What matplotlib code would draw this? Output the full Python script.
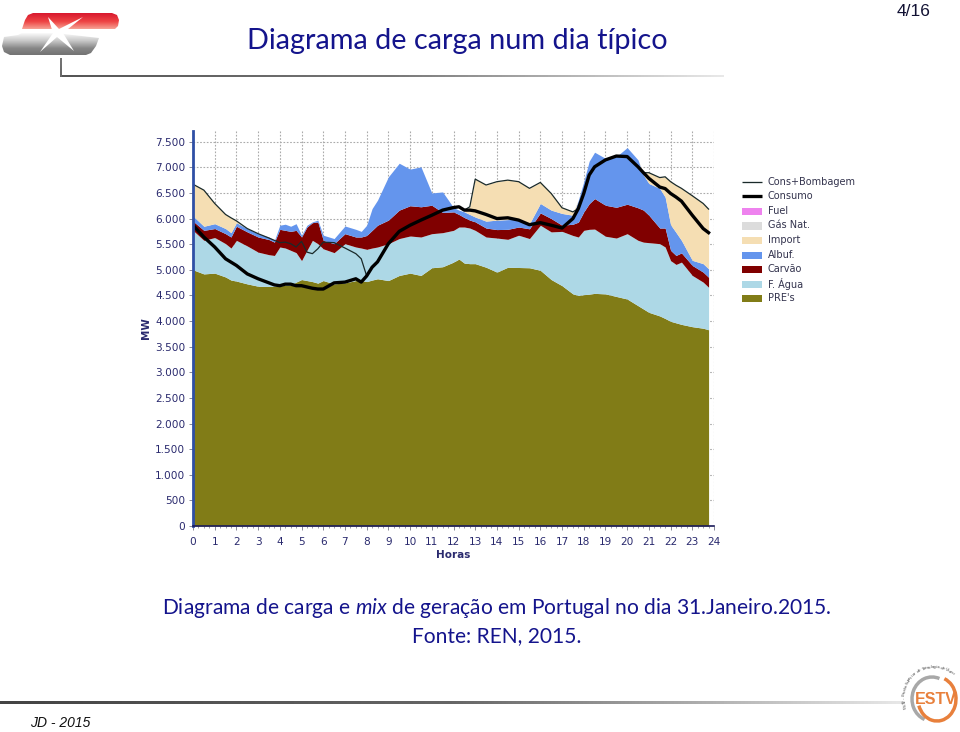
import numpy as np
import matplotlib
matplotlib.use("Agg")
import matplotlib.pyplot as plt
from matplotlib.patches import Polygon, Arc, Rectangle
from matplotlib.colors import LinearSegmentedColormap
from matplotlib.ticker import FuncFormatter, MultipleLocator

hours = [0,.5,1,1.5,1.75,2,2.5,3,3.5,3.75,4,4.25,4.5,4.75,5,5.25,5.5,5.75,6,6.5,7,7.5,7.75,8,8.25,8.5,9,9.5,10,10.5,11,11.5,
         12,12.25,12.5,12.75,13,13.5,14,14.5,15,15.5,16,16.5,17,17.5,17.75,18,18.25,18.5,19,19.5,20,20.5,20.75,21,21.5,21.75,22,22.25,22.5,23,23.5,23.75]
pre_top = [5000,4920,4935,4860,4800,4780,4725,4680,4675,4680,4690,4695,4700,4760,4810,4790,4770,4740,4790,4725,4745,4790,4790,4770,4800,4825,4790,4890,4935,4890,5040,5060,
           5150,5210,5130,5120,5120,5050,4955,5050,5045,5040,4990,4810,4690,4530,4500,4515,4525,4540,4530,4480,4430,4300,4235,4170,4100,4050,3995,3965,3935,3890,3860,3830]
agua_top = [5770,5575,5630,5510,5425,5575,5465,5345,5295,5280,5445,5425,5380,5335,5180,5380,5575,5510,5410,5335,5510,5445,5425,5400,5425,5445,5510,5610,5660,5640,5705,5725,
            5770,5835,5835,5815,5770,5640,5620,5595,5675,5610,5870,5740,5750,5670,5640,5770,5790,5795,5655,5620,5705,5575,5540,5530,5510,5445,5180,5105,5150,4890,4760,4660]
carvao_top = [5950,5770,5805,5705,5640,5850,5740,5640,5590,5540,5790,5770,5750,5770,5640,5835,5920,5935,5575,5510,5705,5640,5640,5670,5770,5870,5970,6165,6250,6230,6260,6120,
              6130,6080,6020,5970,5935,5815,5785,5790,5835,5800,6110,6000,5870,5890,5930,6130,6290,6390,6260,6220,6280,6210,6165,6065,5815,5815,5380,5280,5330,5085,4955,4855]
albuf_top = [6050,5850,5900,5805,5725,5920,5805,5705,5640,5575,5870,5890,5850,5900,5675,5870,5935,5970,5675,5610,5855,5790,5750,5870,6195,6360,6815,7080,6965,7010,6500,6520,
             6215,6165,6130,6080,6030,5950,5970,5980,5985,5900,6295,6165,6100,6065,6360,6720,7120,7295,7175,7210,7385,7145,6850,6685,6590,6420,5880,5730,5575,5185,5120,5020]
import_top = [6670,6555,6295,6080,6015,5955,5805,5705,5640,5575,5870,5890,5850,5900,5675,5870,5935,5970,5675,5610,5855,5790,5750,5870,6195,6360,6815,7080,6965,7010,6500,6520,
              6215,6165,6130,6230,6770,6655,6720,6750,6720,6590,6705,6490,6210,6130,6360,6720,7120,7295,7175,7210,7385,7145,6895,6895,6800,6815,6720,6650,6590,6445,6295,6185]
consumo = [5870,5640,5445,5215,5150,5085,4920,4825,4745,4705,4690,4720,4720,4690,4690,4665,4640,4625,4625,4745,4760,4825,4760,4880,5050,5155,5510,5750,5870,5970,6065,6165,
           6215,6230,6165,6165,6150,6080,6000,6015,5970,5880,5920,5870,5815,6000,6195,6490,6850,7010,7145,7220,7210,7010,6895,6785,6615,6585,6490,6420,6340,6065,5805,5725]
cons_bomb = [6670,6555,6295,6080,6015,5955,5805,5705,5620,5575,5530,5540,5510,5445,5555,5345,5315,5410,5540,5530,5425,5315,5215,4880,5050,5155,5510,5750,5870,5970,6065,6165,
             6215,6230,6165,6230,6770,6655,6720,6750,6720,6590,6705,6490,6210,6130,6195,6490,6850,7010,7145,7220,7210,7010,6895,6895,6800,6815,6720,6650,6590,6445,6295,6185]
legend_labels = ["Cons+Bombagem","Consumo","Fuel","Gás Nat.","Import","Albuf.","Carvão","F. Água","PRE's"]
title = "Diagrama de carga num dia típico"

C_PRE, C_AGUA, C_CARV, C_ALB, C_IMP, C_GAS, C_FUEL = "#817c17","#add8e6","#800000","#6495ed","#f5deb3","#dcdcdc","#ee82ee"
NAVY = "#2a2a6e"
W, H = 960, 732

plt.rcParams['mathtext.fontset'] = 'custom'
plt.rcParams['mathtext.it'] = 'Lato:italic'
plt.rcParams['mathtext.rm'] = 'Lato'
fig = plt.figure(figsize=(9.6, 7.32), dpi=100, facecolor="white")

ov = fig.add_axes([0,0,1,1], zorder=0)
ov.axis('off')

def grad(x0,x1,y0,y1,colors,horizontal=False,clip=None):
    cm = LinearSegmentedColormap.from_list("g",colors)
    g = np.linspace(0,1,200)
    g = g.reshape(1,-1) if horizontal else g.reshape(-1,1)
    im = ov.imshow(g,extent=(x0,x1,y1,y0),cmap=cm,aspect='auto',origin='upper',zorder=1)
    if clip is not None:
        clip.set_transform(ov.transData)
        im.set_clip_path(clip)
    return im

grad(60,724,75.5,77.5,["#555555","#777777","#e8e8e8"],horizontal=True)
grad(60,62,58,77,["#777777","#666666"])
grad(0,905,701.5,704,["#444444","#666666","#e8e8e8"],horizontal=True)

red_poly = Polygon([(22,29),(25,20),(28,15),(33,13),(112,13),(117,15),(119,20),(118,26),(115,29)],closed=True)
grad(20,120,13,30,["#d8182e","#ee4444","#f8b0a0"],clip=red_poly)
gray_poly = Polygon([(4,37),(18,35),(22,33),(30,33),(45,30),(55,33),(99,38),(96,46),(91,53),(86,55),(10,55),(4,52),(2,46)],closed=True)
grad(0,101,33,56,["#fafafa","#c8c8c8","#868686","#707070"],clip=gray_poly)
ov.add_patch(Polygon([(48,17),(59,29),(83,17),(63,33),(74,51),(57,37),(40,52),(53,33)],closed=True,fc="white",ec="none",zorder=3))

# emblem
ov.add_patch(Arc((932,699),40,44,angle=0,theta1=110,theta2=290,color="#a8a8a8",lw=2.5,zorder=2))
ov.add_patch(Arc((937,699),38,44,angle=0,theta1=-70,theta2=160,color="#e8803c",lw=2.5,zorder=2))
ov.text(936,699,"ESTV",color="#e8803c",fontsize=11.5,fontweight='bold',family="Liberation Sans",ha='center',va='center',zorder=3)
ring = "ESTV - Escola Superior de Tecnologia de Viseu"
for i,ch in enumerate(ring):
    a = np.radians(199 - i*(150/len(ring)))
    ov.text(934+30*np.cos(a),697-30*np.sin(a),ch,fontsize=3.2,color="#555555",ha='center',va='center',
            rotation=np.degrees(a)-90,zorder=3)

ov.text(457,41.5,title,family="Lato",fontsize=20.8,color="#14148c",ha='center',va='center')
ov.text(913.5,12,"4/16",family="Liberation Sans",fontsize=12.5,color="#111133",ha='center',va='center')
ov.text(60,723,"JD - 2015",family="Liberation Sans",style='italic',fontsize=10,color="#111111",ha='center',va='center')
ov.text(497,608,r"Diagrama de carga e $\mathit{mix}$ de geração em Portugal no dia 31.Janeiro.2015.",family="Lato",fontsize=15.1,color="#14148c",ha='center',va='center')
ov.text(497,636,"Fonte: REN, 2015.",family="Lato",fontsize=15.1,color="#14148c",ha='center',va='center')

# legend rows
rows = [182,196,211,225.5,240,255,269,284,298]
styles = [("line","#1a2a2a",1.3),("line","black",3.3),("p",C_FUEL,0),("p",C_GAS,0),("p",C_IMP,0),("p",C_ALB,0),("p",C_CARV,0),("p",C_AGUA,0),("p",C_PRE,0)]
for y,lab,(kind,col,lw) in zip(rows,legend_labels,styles):
    if kind=="line":
        ov.plot([742,762],[y,y],color=col,lw=lw*0.72,solid_capstyle='butt')
    else:
        ov.add_patch(Rectangle((742,y-3.5),20,7.5,fc=col,ec="none"))
    ov.text(768,y,lab,fontsize=7.05,color="#33334d",ha='left',va='center')
ov.set_xlim(0,W); ov.set_ylim(H,0)

L,R,T,B = 193,714,131,526
ax = fig.add_axes([L/W,1-B/H,(R-L)/W,(B-T)/H], zorder=2)
ax.patch.set_alpha(0)
ax.set_xlim(0,24)
ax.set_ylim(0,7709)

x = np.array(hours)
ax.fill_between(x,0,pre_top,color=C_PRE,lw=0,zorder=3)
ax.fill_between(x,pre_top,agua_top,color=C_AGUA,lw=0,zorder=3)
ax.fill_between(x,agua_top,carvao_top,color=C_CARV,lw=0,zorder=3)
ax.fill_between(x,carvao_top,albuf_top,color=C_ALB,lw=0,zorder=3)
ax.fill_between(x,albuf_top,import_top,color=C_IMP,lw=0,zorder=3)
ax.plot(x,cons_bomb,color="#1a2a2a",lw=0.9,zorder=4)
ax.plot(x,consumo,color="black",lw=2.4,zorder=5,solid_joinstyle='round')

ax.xaxis.set_major_locator(MultipleLocator(1))
ax.xaxis.set_minor_locator(MultipleLocator(.25))
ax.yaxis.set_major_locator(MultipleLocator(500))
ax.yaxis.set_major_formatter(FuncFormatter(lambda v,p: f"{int(v):,}".replace(",",".")))
ax.grid(True,which='major',color="#aaaaaa",ls=(0,(1.5,1.5)),lw=0.8,zorder=1)
ax.set_axisbelow(True)
ax.tick_params(axis='x',which='major',labelsize=7.6,labelcolor=NAVY,color="#888899",length=3,width=0.7,pad=5)
ax.tick_params(axis='y',which='major',labelsize=7.6,labelcolor=NAVY,color="#888899",length=3,width=0.7,pad=2.5)
ax.tick_params(axis='x',which='minor',length=1.5,width=0.6,color="#888899")
ax.spines['top'].set_visible(False); ax.spines['right'].set_visible(False)
ax.spines['left'].set_color("#2f4fa5"); ax.spines['left'].set_linewidth(2)
ax.spines['bottom'].set_color("#1a1a5a"); ax.spines['bottom'].set_linewidth(1.2)
ax.spines['left'].set_zorder(6); ax.spines['bottom'].set_zorder(6)
ov.text(146,328,"MW",fontsize=7.5,fontweight='bold',color=NAVY,rotation=90,ha='center',va='center')
ov.text(453,555,"Horas",fontsize=7.5,fontweight='bold',color=NAVY,ha='center',va='center')

fig.savefig("out.png",dpi=100,facecolor="white")
